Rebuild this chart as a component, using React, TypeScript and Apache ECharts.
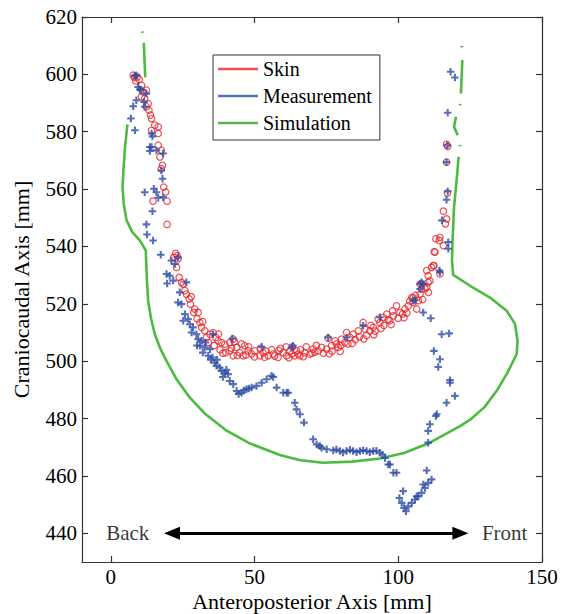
import React, { useEffect, useRef } from 'react';
import * as echarts from 'echarts';

const FONT = 'Liberation Serif, Times New Roman, serif';
const RED = '#e8262c';
const BLUE = '#2d4ba5';
const GREEN = '#4dbb3f';

const xTicks = [0, 50, 100, 150];
const yTicks = [440, 460, 480, 500, 520, 540, 560, 580, 600, 620];
const seriesNames = ['Skin', 'Measurement', 'Simulation'];
const annotationLabels = ['Back', 'Front'];
const annotationX = [5.9, 137];
const arrowY = 440;
const arrowFrom = 21.3;
const arrowTo = 121.6;

const skinPoints: number[][] = [
  [7.8, 599.7], [9.2, 599.1], [9.9, 598.2], [8.7, 597.7], [8.2, 599.0], [10.7, 596.2], [11.2, 593.9], [12.4, 594.5],
  [10.7, 592.2], [11.8, 591.6], [13.0, 589.8], [12.4, 588.7], [13.3, 587.5], [13.8, 585.8], [14.2, 584.6], [15.3, 582.3],
  [16.5, 581.7], [14.2, 580.5], [16.5, 579.4], [16.5, 575.3], [17.6, 573.5], [17.1, 571.2], [18.0, 568.3], [17.6, 567.1],
  [18.4, 560.7], [19.1, 559.0], [19.6, 555.8], [14.7, 555.8], [19.6, 547.7], [22.6, 537.6], [23.1, 536.8], [21.9, 536.2],
  [23.4, 535.7], [22.9, 532.7], [23.8, 529.2], [24.6, 527.5], [25.2, 526.9], [26.3, 523.4], [27.3, 521.7], [27.7, 519.9],
  [29.2, 518.2], [28.9, 517.0], [30.4, 517.0], [31.0, 513.5], [31.6, 511.8], [32.7, 510.6], [34.5, 509.4], [33.3, 508.3],
  [35.6, 510.0], [36.5, 508.3], [37.3, 507.1], [38.5, 506.5], [39.7, 505.9], [41.4, 506.5], [42.6, 507.7], [41.4, 503.6],
  [42.6, 501.9], [43.8, 504.8], [44.9, 503.0], [46.6, 505.4], [46.0, 501.9], [47.8, 503.6], [49.0, 502.5], [50.1, 503.6],
  [51.9, 501.9], [53.0, 503.0], [54.8, 501.9], [56.5, 502.5], [58.2, 501.3], [60.0, 503.0], [61.2, 501.9], [62.3, 503.6],
  [64.0, 501.9], [65.2, 502.5], [63.2, 505.0], [64.6, 503.6], [65.8, 501.9], [67.5, 503.0], [69.3, 502.5], [70.4, 504.2],
  [72.2, 503.6], [73.3, 504.8], [75.1, 504.2], [75.6, 508.0], [76.8, 505.4], [78.0, 507.1], [79.1, 504.8], [80.3, 507.7],
  [81.4, 506.5], [82.0, 510.0], [83.2, 508.3], [84.3, 509.4], [86.1, 510.6], [87.8, 513.5], [88.4, 511.2], [90.1, 510.6],
  [91.3, 511.8], [93.0, 514.7], [93.6, 513.5], [94.8, 515.3], [96.0, 516.4], [97.1, 514.1], [98.3, 515.8], [99.4, 519.3],
  [100.6, 517.0], [102.3, 518.2], [103.5, 519.3], [104.7, 522.2], [105.2, 520.5], [106.4, 518.2], [107.0, 521.1], [107.6, 523.4],
  [108.1, 525.2], [109.9, 525.7], [107.6, 526.9], [110.4, 529.8], [109.9, 531.6], [111.6, 532.7], [112.4, 533.3], [114.5, 530.4],
  [112.8, 538.0], [116.8, 575.6], [117.2, 574.9], [116.8, 569.4], [117.1, 558.6], [115.7, 552.3], [116.8, 549.6], [116.4, 547.9],
  [114.5, 543.2], [113.1, 542.7], [114.3, 542.1], [115.7, 540.3], [112.5, 538.2], [112.2, 533.3], [110.4, 527.5], [109.3, 525.2],
  [105.2, 522.2], [36.0, 505.5], [38.0, 504.0], [40.0, 503.0], [42.0, 504.5], [44.0, 502.0], [45.5, 506.0], [48.0, 505.0],
  [50.0, 501.5], [52.0, 504.5], [54.0, 503.5], [56.0, 504.0], [57.0, 501.8], [59.0, 504.5], [61.0, 505.0], [63.0, 502.5],
  [66.0, 504.0], [68.0, 505.0], [70.0, 502.8], [71.5, 505.5], [74.0, 502.8], [77.0, 503.5], [78.5, 506.0], [80.0, 505.5],
  [82.5, 506.0], [85.0, 507.5], [86.5, 508.5], [89.0, 509.0], [90.5, 512.5], [92.0, 510.5], [95.0, 512.5], [96.5, 514.5],
  [98.0, 517.5], [100.0, 515.0], [101.5, 516.5], [103.0, 516.8], [104.0, 521.0], [106.0, 523.0], [108.5, 521.5], [110.5, 524.0],
  [111.0, 528.0], [34.0, 506.5], [37.5, 509.5], [39.0, 502.8], [43.0, 506.8], [47.0, 502.2], [53.5, 501.4], [58.5, 503.8],
  [62.0, 501.2], [67.0, 501.6], [71.0, 503.2], [76.0, 502.6], [79.8, 503.4], [84.0, 506.2], [88.0, 507.8], [91.5, 509.2],
  [94.0, 511.4], [97.5, 512.8], [102.0, 515.2], [25.8, 524.6], [28.0, 522.5], [30.0, 514.8], [32.0, 513.8],
];

const measurementPoints: number[][] = [
  [8.4, 599.4], [8.9, 599.7], [9.5, 595.6], [10.1, 594.7], [10.7, 594.5], [12.4, 593.3], [11.6, 590.4], [8.9, 591.0],
  [7.8, 588.9], [11.8, 588.7], [7.0, 584.6], [8.4, 580.5], [14.5, 578.4], [14.2, 579.4], [13.6, 574.7], [14.2, 574.7],
  [13.6, 573.3], [15.9, 573.5], [18.2, 572.4], [17.6, 566.5], [18.0, 563.6], [15.0, 560.1], [15.9, 558.9], [11.8, 558.9],
  [18.2, 557.2], [16.5, 557.0], [14.5, 552.3], [12.4, 547.7], [12.6, 544.2], [14.7, 542.1], [17.4, 537.1], [23.4, 536.2],
  [21.1, 535.1], [22.3, 533.9], [19.4, 530.4], [20.5, 529.8], [19.6, 527.1], [21.7, 528.1], [26.3, 527.5], [24.0, 524.0],
  [23.4, 520.5], [24.6, 519.9], [25.8, 516.4], [25.2, 514.1], [26.9, 514.7], [27.5, 512.9], [28.6, 511.8], [28.1, 510.0],
  [29.8, 509.4], [30.4, 507.7], [31.6, 507.1], [31.0, 505.4], [32.7, 504.8], [34.5, 504.2], [33.9, 501.9], [35.4, 501.3],
  [36.2, 499.5], [35.6, 509.4], [36.8, 498.4], [37.9, 497.8], [38.5, 496.6], [39.7, 496.0], [40.8, 495.5], [41.4, 493.1],
  [42.6, 492.0], [43.8, 489.6], [45.5, 489.0], [47.2, 490.2], [49.0, 490.8], [50.7, 491.4], [52.5, 492.5], [54.2, 493.7],
  [55.9, 494.9], [56.5, 494.5], [57.7, 490.8], [61.2, 489.0], [60.0, 489.0], [61.7, 489.0], [62.9, 504.8], [42.3, 507.9],
  [52.5, 505.0], [64.0, 485.5], [64.6, 483.2], [65.8, 481.5], [67.2, 478.6], [70.4, 472.8], [71.6, 471.0], [72.7, 470.4],
  [73.3, 469.8], [75.1, 469.3], [77.4, 468.9], [79.7, 468.7], [82.0, 468.7], [84.3, 468.7], [86.7, 468.7], [89.0, 468.7],
  [91.3, 468.7], [93.6, 468.1], [95.4, 466.3], [96.5, 464.0], [97.1, 464.0], [98.3, 461.1], [99.4, 461.1], [101.7, 454.7],
  [100.4, 452.3], [101.2, 450.6], [102.0, 448.8], [102.7, 447.7], [103.5, 449.4], [104.7, 450.6], [105.8, 451.8], [107.0, 452.9],
  [108.1, 454.1], [109.3, 455.8], [110.4, 457.6], [111.6, 458.8], [109.9, 461.9], [108.7, 457.0], [106.4, 452.9], [110.4, 471.6],
  [110.4, 475.7], [111.0, 478.0], [113.4, 481.5], [113.1, 480.9], [116.8, 485.5], [119.7, 487.9], [118.0, 492.5], [118.0, 493.4],
  [113.9, 498.0], [114.5, 500.7], [112.4, 503.6], [115.1, 509.4], [117.7, 509.7], [111.3, 515.0], [108.7, 517.0], [108.7, 526.9],
  [107.6, 526.9], [105.8, 521.3], [105.2, 521.1], [107.6, 525.2], [108.1, 527.5], [114.3, 531.6], [114.5, 531.0], [117.4, 539.2],
  [117.4, 541.5], [115.2, 549.1], [116.8, 556.3], [117.2, 559.2], [116.8, 569.4], [117.1, 575.3], [117.2, 586.6], [118.2, 600.9],
  [119.7, 598.9], [93.6, 515.3], [87.8, 512.4], [75.6, 508.3], [82.0, 508.3], [63.4, 505.4], [78.5, 469.2], [80.8, 468.2],
  [83.2, 469.1], [85.5, 468.3], [87.8, 469.0], [90.1, 468.3], [92.4, 468.8], [94.5, 467.5], [30.0, 505.5], [32.0, 503.0],
  [33.0, 506.5], [34.8, 500.5], [37.0, 500.5], [39.0, 494.5], [40.2, 497.0], [44.5, 488.6], [46.3, 489.8], [48.0, 490.5],
];

const simulationSegments: number[][][] = [
  [[11.0, 615.0], [11.05, 614.5]],
  [[11.5, 611.0], [11.7, 606.0], [12.0, 599.0]],
  [
    [5.8, 582.6], [5.0, 575.0], [4.5, 568.0], [4.1, 560.7], [4.5, 555.0], [5.5, 549.1], [7.5, 545.0], [10.1, 542.1],
    [12.2, 538.6], [12.3, 535.0], [12.6, 528.0], [13.0, 521.1], [14.0, 515.0], [15.3, 509.5], [17.2, 504.5], [19.4, 500.1],
    [23.0, 493.5], [27.5, 487.3], [33.0, 481.5], [40.0, 476.0], [48.0, 471.5], [58.8, 467.3], [66.0, 465.5], [73.9, 464.6],
    [84.0, 465.0], [93.6, 466.1], [102.0, 468.0], [111.0, 471.6], [121.5, 477.4], [125.0, 479.6], [130.0, 484.0], [134.2, 489.6],
    [138.0, 496.0], [141.2, 502.5], [141.5, 507.1], [140.6, 513.0], [137.7, 517.6], [131.9, 522.2], [125.0, 526.3], [119.1, 530.1],
    [118.7, 535.0], [118.8, 540.0], [119.4, 553.7], [120.3, 563.0], [121.0, 571.2],
  ],
  [[121.5, 574.9], [121.55, 575.4]],
  [[120.7, 578.8], [119.4, 581.7], [120.1, 585.2]],
  [[121.5, 589.2], [121.55, 589.7]],
  [[121.8, 593.3], [122.0, 598.0], [122.3, 605.0]],
  [[122.1, 609.4], [122.15, 609.9]],
];

const PLUS = 'path://M3.6,0H6.4V3.6H10V6.4H6.4V10H3.6V6.4H0V3.6H3.6Z';

export default function App() {
  const ref = useRef<HTMLDivElement>(null);

  useEffect(() => {
    if (!ref.current) return;
    const chart = echarts.init(ref.current, null, { renderer: 'svg' });
    const axisLineStyle = { color: '#333', width: 1.2 };
    const labelStyle = { fontSize: 21, lineHeight: 20, color: '#000', fontFamily: FONT };
    const nameStyle = { fontSize: 22, lineHeight: 22, color: '#000', fontFamily: FONT };

    const simSeries = simulationSegments.map((seg) => ({
      name: seriesNames[2],
      type: 'line',
      data: seg,
      showSymbol: false,
      symbol: 'none',
      lineStyle: { color: GREEN, width: 2.6 },
      itemStyle: { color: GREEN },
      z: 3,
      silent: true,
    }));

    chart.setOption({
      animation: false,
      backgroundColor: '#fff',
      grid: { left: 82, right: 25, top: 17, bottom: 52, containLabel: false, outerBoundsMode: 'none' },
      legend: {
        data: [
          { name: seriesNames[0], itemStyle: { color: RED, borderWidth: 0 } },
          { name: seriesNames[1], itemStyle: { color: BLUE, borderWidth: 0 } },
          { name: seriesNames[2], itemStyle: { color: GREEN, borderWidth: 0 } },
        ],
        orient: 'vertical',
        left: 213,
        top: 55,
        icon: 'rect',
        itemWidth: 40,
        itemHeight: 2.5,
        itemGap: 7,
        padding: [4, 8, 7, 5],
        borderColor: '#333',
        borderWidth: 1,
        backgroundColor: '#fff',
        selectedMode: false,
        textStyle: { fontSize: 20, lineHeight: 20, color: '#000', fontFamily: FONT },
      },
      xAxis: [
        {
          type: 'value',
          min: -10,
          max: 150,
          position: 'bottom',
          name: 'Anteroposterior Axis [mm]',
          nameLocation: 'middle',
          nameGap: 28,
          nameMoveOverlap: false,
          nameTextStyle: nameStyle,
          axisLine: { show: true, onZero: false, lineStyle: axisLineStyle },
          axisTick: { show: true, inside: true, length: 6, customValues: xTicks, lineStyle: axisLineStyle },
          axisLabel: { show: true, customValues: xTicks, margin: 5, ...labelStyle },
          splitLine: { show: false },
        },
        {
          type: 'value',
          min: -10,
          max: 150,
          position: 'top',
          axisLine: { show: true, onZero: false, lineStyle: axisLineStyle },
          axisTick: { show: true, inside: true, length: 6, customValues: xTicks, lineStyle: axisLineStyle },
          axisLabel: { show: false },
          splitLine: { show: false },
        },
      ],
      yAxis: [
        {
          type: 'value',
          min: 430,
          max: 620,
          position: 'left',
          name: 'Craniocaudal Axis [mm]',
          nameLocation: 'middle',
          nameGap: 50,
          nameTextStyle: nameStyle,
          axisLine: { show: true, onZero: false, lineStyle: axisLineStyle },
          axisTick: { show: true, inside: true, length: 6, customValues: yTicks, lineStyle: axisLineStyle },
          axisLabel: { show: true, customValues: yTicks, margin: 5, ...labelStyle },
          splitLine: { show: false },
        },
        {
          type: 'value',
          min: 430,
          max: 620,
          position: 'right',
          axisLine: { show: true, onZero: false, lineStyle: axisLineStyle },
          axisTick: { show: true, inside: true, length: 6, customValues: yTicks, lineStyle: axisLineStyle },
          axisLabel: { show: false },
          splitLine: { show: false },
        },
      ],
      series: [
        {
          name: seriesNames[0],
          type: 'scatter',
          data: skinPoints,
          symbol: 'circle',
          symbolSize: 6.5,
          itemStyle: { color: 'rgba(0,0,0,0)', borderColor: RED, borderWidth: 1.2 },
          z: 2,
          silent: true,
        },
        {
          name: seriesNames[1],
          type: 'scatter',
          data: measurementPoints,
          symbol: PLUS,
          symbolSize: 7.5,
          itemStyle: { color: BLUE },
          z: 4,
          silent: true,
        },
        ...simSeries,
        {
          name: 'annotations',
          type: 'scatter',
          data: annotationLabels.map((t, i) => [annotationX[i], arrowY, t]),
          symbolSize: 0,
          silent: true,
          label: {
            show: true,
            position: 'inside',
            formatter: (p: any) => p.data[2],
            fontSize: 21,
            color: '#000',
            fontFamily: FONT,
          },
          markLine: {
            silent: true,
            symbol: ['triangle', 'triangle'],
            symbolSize: [13, 16],
            label: { show: false },
            lineStyle: { color: '#000', width: 3, type: 'solid' },
            data: [[{ coord: [arrowFrom, arrowY] }, { coord: [arrowTo, arrowY] }]],
          },
          z: 5,
        },
      ],
    });
    return () => chart.dispose();
  }, []);

  return <div ref={ref} style={{ position: 'fixed', left: 0, top: 0, width: 567, height: 614 }} />;
}
